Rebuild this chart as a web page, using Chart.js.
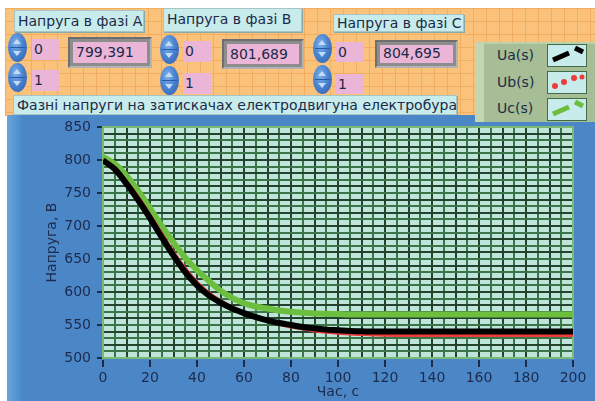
<!DOCTYPE html>
<html>
<head>
<meta charset="utf-8">
<script src="https://cdn.jsdelivr.net/npm/chart.js@4"></script>
<style>
  body { margin: 0; width: 595px; height: 401px; overflow: hidden; background: #fff; position: relative;
         font-family: 'DejaVu Sans', sans-serif; color: #1b2a48; }
  .panel { position: absolute; left: 5px; top: 8px; width: 590px; height: 108px;
           background-color: #fbc27c;
           background-image: linear-gradient(#f1ae60 1px, transparent 1px), linear-gradient(90deg, #f1ae60 1px, transparent 1px);
           background-size: 13px 13px; }
  .lbl { position: absolute; background: #c8ecec; border: 1px solid #a9c4c4; box-shadow: 1px 1px 0 #8aa8a8;
         font-size: 14px; line-height: 20px; padding-left: 3px; box-sizing: border-box; white-space: nowrap; }
  .pink { position: absolute; background: #eab5d6; font-size: 14px; line-height: 20px; padding-left: 2px; box-sizing: border-box; }
  .frame { position: absolute; background: #8d8d8d; border-top: 2px solid #6e6e6e; border-left: 2px solid #6e6e6e;
           border-bottom: 2px solid #b4b4b4; border-right: 2px solid #b4b4b4; box-sizing: border-box; padding: 3px; }
  .frame .pink { position: static; width: 100%; height: 100%; padding-left: 3px; }
  .spin { position: absolute; width: 19px; height: 29px; border-radius: 50%;
          background: radial-gradient(ellipse at 40% 35%, #7eb2ec 0%, #4a84d2 45%, #2a5aa6 100%); }
  .spin::before, .spin::after { content: ''; position: absolute; left: 5px; border-left: 4px solid transparent; border-right: 4px solid transparent; }
  .spin::before { top: 6px; border-bottom: 5px solid #c4dcf6; }
  .spin::after { bottom: 6px; border-top: 5px solid #c4dcf6; }
  .spin i { position: absolute; left: 2px; right: 2px; top: 14px; height: 1px; background: #2a5aa6; }
  .legend { position: absolute; left: 475px; top: 42px; width: 120px; height: 80px; background: #a6bd95;
            border-left: 9px solid #c3d6b3; border-top: 2px solid #bcd0ac; box-sizing: border-box; }
  .legend span { position: absolute; left: 13px; font-size: 14px; }
  .legend svg { position: absolute; left: 63px; }
  .plotwrap { position: absolute; left: 7px; top: 115px; width: 588px; height: 286px;
              background: linear-gradient(90deg, #68a6de 0px, #5293d2 10px, #4b86c7 16px, #4b86c7 100%); }
</style>
</head>
<body>
<div class="panel"></div>

<div class="lbl" style="left:14px;top:10px;width:130px;height:22px;">Напруга в фазі А</div>
<div class="spin" style="left:8px;top:33px;"><i></i></div>
<div class="spin" style="left:8px;top:63px;"><i></i></div>
<div class="pink" style="left:32px;top:39px;width:27px;height:21px;">0</div>
<div class="pink" style="left:32px;top:70px;width:27px;height:21px;">1</div>
<div class="frame" style="left:68px;top:37px;width:84px;height:31px;"><div class="pink">799,391</div></div>

<div class="lbl" style="left:163px;top:8px;width:139px;height:24px;">Напруга в фазі B</div>
<div class="spin" style="left:160px;top:35px;"><i></i></div>
<div class="spin" style="left:160px;top:66px;"><i></i></div>
<div class="pink" style="left:183px;top:41px;width:28px;height:21px;">0</div>
<div class="pink" style="left:183px;top:73px;width:28px;height:21px;">1</div>
<div class="frame" style="left:222px;top:39px;width:82px;height:30px;"><div class="pink">801,689</div></div>

<div class="lbl" style="left:333px;top:14px;width:131px;height:18px;line-height:17px;">Напруга в фазі C</div>
<div class="spin" style="left:313px;top:34px;"><i></i></div>
<div class="spin" style="left:313px;top:65px;"><i></i></div>
<div class="pink" style="left:336px;top:42px;width:27px;height:20px;">0</div>
<div class="pink" style="left:336px;top:74px;width:27px;height:20px;">1</div>
<div class="frame" style="left:375px;top:40px;width:83px;height:28px;"><div class="pink" style="line-height:17px;">804,695</div></div>

<div class="lbl" style="left:13px;top:95px;width:444px;height:20px;line-height:18px;">Фазні напруги на затискачах електродвигуна електробура</div>

<div class="plotwrap"><canvas id="voltChart"></canvas></div>

<div class="legend">
  <span style="top:3px;">Ua(s)</span>
  <span style="top:30px;">Ub(s)</span>
  <span style="top:56px;">Uc(s)</span>
  <svg width="40" height="23" style="top:0px;">
    <rect x="0.5" y="0.5" width="39" height="22" fill="#c8ecec" stroke="#3f6e46"/>
    <line x1="6" y1="16" x2="22" y2="9" stroke="#000" stroke-width="5"/>
    <line x1="28" y1="4" x2="36" y2="8" stroke="#000" stroke-width="5"/>
  </svg>
  <svg width="40" height="23" style="top:27px;">
    <rect x="0.5" y="0.5" width="39" height="22" fill="#c8ecec" stroke="#3f6e46"/>
    <circle cx="8" cy="15" r="3" fill="#ee3b3b"/>
    <circle cx="17" cy="11" r="3" fill="#ee3b3b"/>
    <circle cx="27" cy="7" r="3" fill="#ee3b3b"/>
    <circle cx="35" cy="6" r="2.5" fill="#ee3b3b"/>
  </svg>
  <svg width="40" height="23" style="top:54px;">
    <rect x="0.5" y="0.5" width="39" height="22" fill="#c8ecec" stroke="#3f6e46"/>
    <line x1="6" y1="16" x2="22" y2="9" stroke="#6cbf3e" stroke-width="5"/>
    <line x1="28" y1="4" x2="36" y2="8" stroke="#6cbf3e" stroke-width="5"/>
  </svg>
</div>

<script>
// time, s
const seconds = [0, 5, 10, 15, 20, 25, 30, 35, 40, 45, 50, 55, 60, 65, 70, 75, 80, 85, 90, 95, 100, 105, 110, 115, 120, 140, 160, 180, 200];
// phase voltages, V
const uaValues = [799.4, 786, 764, 739, 712, 683, 655, 630, 610, 595, 584, 575, 568, 562, 557, 553, 550, 547, 545, 543, 542, 541, 540.5, 540, 540, 540, 540, 540, 540];
const ubValues = [801.7, 789, 768, 744, 717, 689, 661, 636, 615, 599, 587, 577, 569, 562, 556, 551, 547, 544, 541, 539, 537.5, 536.5, 535.5, 535, 534.5, 534, 534, 534, 534];
const ucValues = [804.7, 794, 776, 753, 727, 700, 675, 652, 633, 617, 602, 591, 583, 578, 575, 572, 570, 568.5, 567.5, 567, 566.5, 566, 566, 566, 566, 566, 566, 566, 566];

const voltageTicks = [500, 550, 600, 650, 700, 750, 800, 850];
const timeTicks = [0, 20, 40, 60, 80, 100, 120, 140, 160, 180, 200];

const textColor = '#1d2b4d';
const points = vals => seconds.map((t, i) => ({ x: t, y: vals[i] }));

Chart.defaults.font.family = "'DejaVu Sans', sans-serif";
Chart.defaults.font.size = 14;
Chart.defaults.color = textColor;

// mint plot background and green frame round it
const plotFrame = {
  id: 'plotFrame',
  beforeDraw(chart) {
    const { ctx, chartArea: a } = chart;
    ctx.save();
    ctx.fillStyle = '#bfe4da';
    ctx.fillRect(a.left, a.top, a.width, a.height);
    ctx.restore();
  },
  beforeDatasetsDraw(chart) {
    const { ctx, chartArea: a } = chart;
    ctx.save();
    ctx.strokeStyle = '#7cba74';
    ctx.lineWidth = 2;
    ctx.strokeRect(a.left, a.top, a.width, a.height);
    ctx.restore();
  }
};

new Chart(document.getElementById('voltChart'), {
  type: 'line',
  data: {
    datasets: [
      { label: 'Ua(s)', data: points(uaValues), borderColor: '#000000', borderWidth: 6 },
      { label: 'Ub(s)', data: points(ubValues), borderColor: '#ee3b3b', borderWidth: 3 },
      { label: 'Uc(s)', data: points(ucValues), borderColor: '#6cbf3e', borderWidth: 6 }
    ]
  },
  options: {
    responsive: true,
    maintainAspectRatio: false,
    animation: false,
    elements: {
      point: { radius: 0 },
      line: { cubicInterpolationMode: 'monotone', borderCapStyle: 'butt' }
    },
    layout: { padding: { left: 33, top: 12, right: 22, bottom: 0 } },
    plugins: { legend: { display: false }, tooltip: { enabled: false } },
    scales: {
      x: {
        type: 'linear',
        min: 0,
        max: 200,
        afterFit: scale => { scale.height = 43; },
        grid: {
          color: c => (c.tick.value % 10 === 0 ? '#24432e' : '#3b7449'),
          lineWidth: 2,
          tickLength: 9,
          tickWidth: 2,
          tickBorderDash: [0, 2, 7, 40],
          tickColor: c => (timeTicks.includes(c.tick.value) ? textColor : 'transparent')
        },
        border: { display: false },
        ticks: {
          stepSize: 5,
          autoSkip: false,
          maxTicksLimit: 100,
          maxRotation: 0,
          padding: 3,
          callback: v => (timeTicks.includes(v) ? v : '')
        },
        title: { display: true, text: 'Час, с', padding: { top: 0, bottom: 0 } }
      },
      y: {
        min: 500,
        max: 850,
        afterFit: scale => { scale.width = 63; },
        grid: {
          color: c => (c.tick.value % 20 === 0 ? '#24432e' : '#3b7449'),
          lineWidth: 2,
          tickLength: 9,
          tickWidth: 2,
          tickBorderDash: [0, 3, 6, 40],
          tickColor: c => (voltageTicks.includes(c.tick.value) ? textColor : 'transparent')
        },
        border: { display: false },
        ticks: {
          stepSize: 10,
          autoSkip: false,
          maxTicksLimit: 100,
          padding: 3,
          callback: v => (voltageTicks.includes(v) ? v : '')
        },
        title: { display: true, text: 'Напруга, В', padding: { top: 4, bottom: 0 } }
      }
    }
  },
  plugins: [plotFrame]
});
</script>
</body>
</html>
